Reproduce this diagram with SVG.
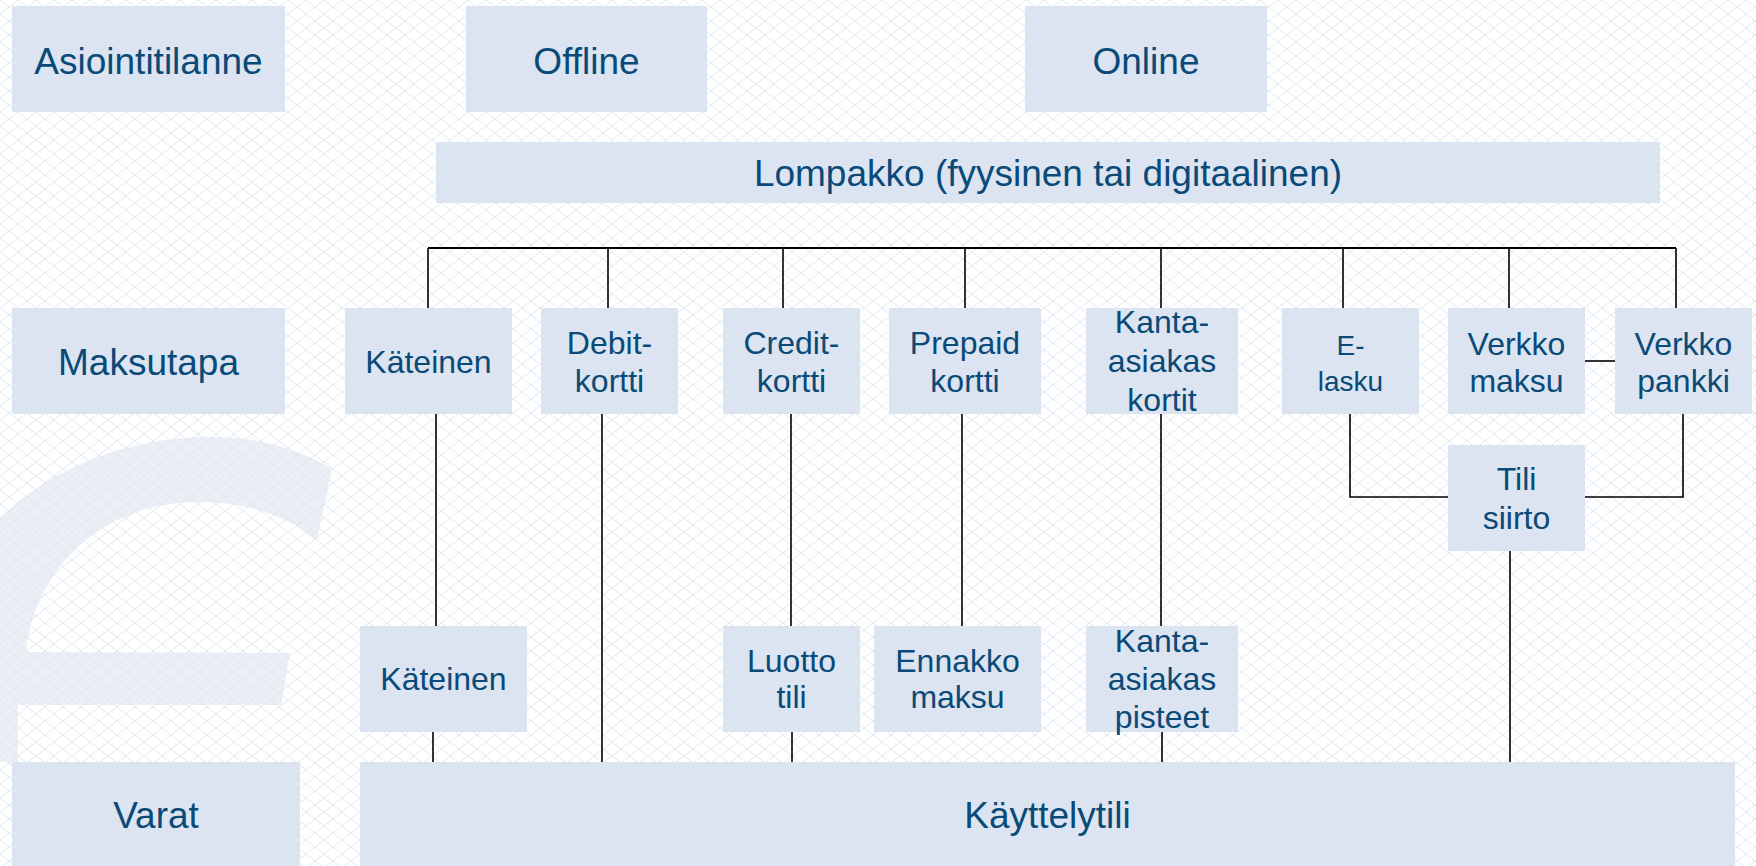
<svg xmlns="http://www.w3.org/2000/svg" width="1756" height="866" viewBox="0 0 1756 866">
<style>
.box{fill:#dbe4f0}
.t{font-family:"Liberation Sans",Arial,sans-serif;fill:#0a4a78;text-anchor:middle}
.big{font-size:37px}
.sm{font-size:32px}
.xs{font-size:28px}
.ln{stroke:#000;stroke-width:1.6;fill:none}
.bus{stroke:#000;stroke-width:2.2;fill:none}
</style>
<defs>
<pattern id="mesh" patternUnits="userSpaceOnUse" width="18" height="14">
<path d="M0 0 L18 14 M18 0 L0 14" stroke="#dde8ee" stroke-width="0.9" fill="none"/>
</pattern>
</defs>
<rect width="1756" height="866" fill="#ffffff"/>
<g id="background">
<path d="M0 518 C60 460 140 437 210 437 C262 437 302 450 332 469 L317 540 C285 515 245 502 200 502 C100 502 35 570 26 652 L290 653 L281 705 L0 705 Z" fill="#ebeff5"/>
<rect x="0" y="705" width="18" height="57" fill="#ebeff5"/>
<rect width="1756" height="866" fill="url(#mesh)"/>
</g>
<g id="connectors">
<path class="bus" d="M428 248 H1676"/>
<path class="ln" d="M428 248 V308 M608 248 V308 M783 248 V308 M965 248 V308 M1161 248 V308 M1343 248 V308 M1509 248 V308 M1676 248 V308"/>
<path class="ln" d="M436 413 V626 M433 732 V762"/>
<path class="ln" d="M602 413 V762"/>
<path class="ln" d="M791 413 V626 M792 732 V762"/>
<path class="ln" d="M962 413 V626"/>
<path class="ln" d="M1161 413 V626 M1162 732 V762"/>
<path class="ln" d="M1350 413 V497 H1448"/>
<path class="ln" d="M1683 413 V497 H1585"/>
<path class="ln" d="M1585 361 H1615"/>
<path class="ln" d="M1510 551 V762"/>
</g>
<g id="asiointitilanne"><rect class="box" x="12" y="6" width="273" height="106"/><text class="t big" x="148.5" y="74">Asiointitilanne</text></g>
<g id="offline"><rect class="box" x="466" y="6" width="241" height="106"/><text class="t big" x="586.5" y="74">Offline</text></g>
<g id="online"><rect class="box" x="1025" y="6" width="242" height="106"/><text class="t big" x="1146" y="74">Online</text></g>
<g id="lompakko"><rect class="box" x="436" y="142" width="1224" height="61"/><text class="t big" x="1048" y="186">Lompakko (fyysinen tai digitaalinen)</text></g>
<g id="maksutapa"><rect class="box" x="12" y="308" width="273" height="106"/><text class="t big" x="148.5" y="375">Maksutapa</text></g>
<g id="kateinen1"><rect class="box" x="345" y="308" width="167" height="106"/><text class="t sm" x="428.5" y="373">Käteinen</text></g>
<g id="debit"><rect class="box" x="541" y="308" width="137" height="106"/><text class="t sm" x="609.5" y="354">Debit-</text><text class="t sm" x="609.5" y="392">kortti</text></g>
<g id="credit"><rect class="box" x="723" y="308" width="137" height="106"/><text class="t sm" x="791.5" y="354">Credit-</text><text class="t sm" x="791.5" y="392">kortti</text></g>
<g id="prepaid"><rect class="box" x="889" y="308" width="152" height="106"/><text class="t sm" x="965" y="354">Prepaid</text><text class="t sm" x="965" y="392">kortti</text></g>
<g id="kanta1"><rect class="box" x="1086" y="308" width="152" height="106"/><text class="t sm" x="1162" y="333">Kanta-</text><text class="t sm" x="1162" y="372">asiakas</text><text class="t sm" x="1162" y="411">kortit</text></g>
<g id="elasku"><rect class="box" x="1282" y="308" width="137" height="106"/><text class="t xs" x="1350.5" y="355">E-</text><text class="t xs" x="1350.5" y="391">lasku</text></g>
<g id="verkkomaksu"><rect class="box" x="1448" y="308" width="137" height="106"/><text class="t sm" x="1516.5" y="355">Verkko</text><text class="t sm" x="1516.5" y="392">maksu</text></g>
<g id="verkkopankki"><rect class="box" x="1615" y="308" width="137" height="106"/><text class="t sm" x="1683.5" y="355">Verkko</text><text class="t sm" x="1683.5" y="392">pankki</text></g>
<g id="tilisiirto"><rect class="box" x="1448" y="445" width="137" height="106"/><text class="t sm" x="1516.5" y="490">Tili</text><text class="t sm" x="1516.5" y="529">siirto</text></g>
<g id="kateinen2"><rect class="box" x="360" y="626" width="167" height="106"/><text class="t sm" x="443.5" y="690">Käteinen</text></g>
<g id="luottotili"><rect class="box" x="723" y="626" width="137" height="106"/><text class="t sm" x="791.5" y="672">Luotto</text><text class="t sm" x="791.5" y="708">tili</text></g>
<g id="ennakkomaksu"><rect class="box" x="874" y="626" width="167" height="106"/><text class="t sm" x="957.5" y="672">Ennakko</text><text class="t sm" x="957.5" y="708">maksu</text></g>
<g id="kanta2"><rect class="box" x="1086" y="626" width="152" height="106"/><text class="t sm" x="1162" y="652">Kanta-</text><text class="t sm" x="1162" y="690">asiakas</text><text class="t sm" x="1162" y="728">pisteet</text></g>
<g id="varat"><rect class="box" x="12" y="762" width="288" height="104"/><text class="t big" x="156" y="828">Varat</text></g>
<g id="kayttelytili"><rect class="box" x="360" y="762" width="1375" height="104"/><text class="t big" x="1047.5" y="828">Käyttelytili</text></g>
</svg>
